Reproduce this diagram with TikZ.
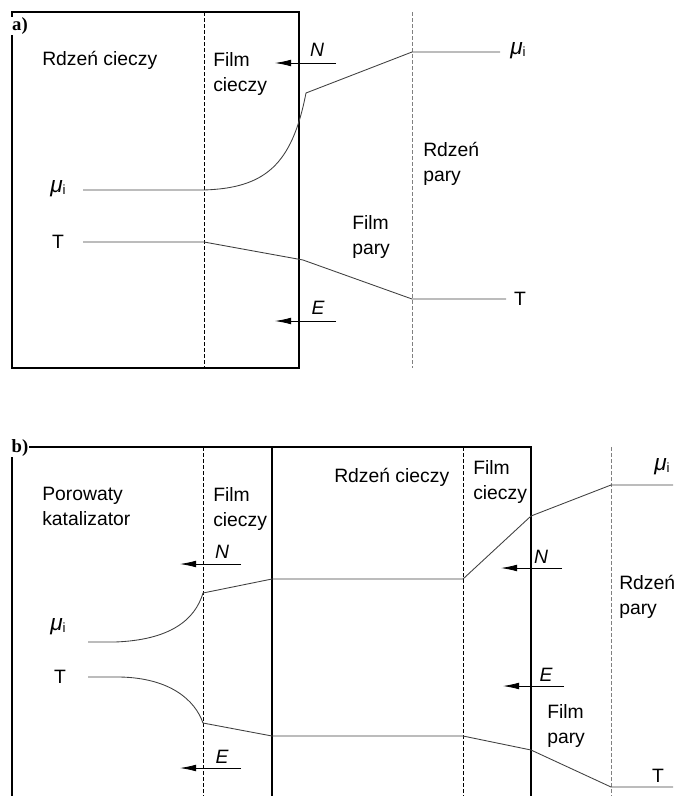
\documentclass[tikz,border=0pt]{standalone}
\usepackage{fontspec}
\setmainfont{Liberation Sans}
\newfontfamily\tagfont{Liberation Serif}
\usetikzlibrary{arrows.meta}
\newcommand{\mui}{{\fontsize{17}{17}\selectfont\itshape μ}\raisebox{-1.5pt}{\fontsize{10}{10}\selectfont i}}
\tikzset{
  wall/.style={line width=0.8pt},
  filmline/.style={line width=0.6pt,dash pattern=on 3pt off 1.5pt},
  coreline/.style={line width=0.7pt,gray,dash pattern=on 3pt off 1.5pt},
  profile/.style={line width=0.65pt,black!75},
  flux/.style={line width=0.6pt,-{Latex[length=12pt,width=5pt]}},
  zone/.style={font=\fontsize{14.5}{18.75}\selectfont,inner sep=0pt,align=left,anchor=west},
  sym/.style={font=\fontsize{14.5}{17}\selectfont,inner sep=0pt},
  panel/.style={font=\fontsize{14}{14}\tagfont\bfseries,fill=white,inner sep=0.6pt},
}
\begin{document}
\begin{tikzpicture}[x=0.75pt,y=-0.75pt]
  \useasboundingbox (0,0) rectangle (674,796);
  % --- a) ---
  \draw[wall] (12,12) rectangle (299,368);
  \draw[filmline] (204,12) -- (204,368);
  \draw[coreline] (412,12) -- (412,368);
  \draw[profile] (83,190) -- (204,190) .. controls (265,188) and (292,165) .. (306,93)
     -- (412,52) -- (500,52);
  \draw[profile] (83,242) -- (204,242) -- (303,260) -- (412,299) -- (506,299);
  \node[panel] (ta) at (20,26) {a)};
  \node[zone] (ra) at (42,60) {Rdzeń cieczy};
  \node[zone] (fa) at (213,74.5) {Film\\cieczy};
  \node[zone] (rpa) at (423,164) {Rdzeń\\pary};
  \node[zone] (fpa) at (352,236.5) {Film\\pary};
  \node[sym] (mla) at (58,189) {\mui};
  \node[sym] (tla) at (58,242) {T};
  \node[sym] (mra) at (518,51) {\mui};
  \node[sym] (tra) at (520,299) {T};
  \coordinate (na1) at (336,63);  \coordinate (na2) at (275,63);
  \coordinate (ea1) at (336,321); \coordinate (ea2) at (275,321);
  \draw[flux] (na1) -- (na2);
  \draw[flux] (ea1) -- (ea2);
  \node[sym] (nla) at (317,50) {\itshape N};
  \node[sym] (ela) at (318,308) {\itshape E};
  % --- b) ---
  \draw[wall] (12,796) -- (12,447) -- (531,447) -- (531,796);
  \draw[wall] (272,447) -- (272,796);
  \draw[filmline] (203,447) -- (203,796);
  \draw[filmline] (463,447) -- (463,796);
  \draw[coreline] (611,447) -- (611,796);
  \draw[profile] (88,642) -- (115,642) .. controls (170,640) and (195,620) .. (203,593)
     -- (272,579) -- (463,579) -- (531,516) -- (611,485) -- (673,485);
  \draw[profile] (88,677) -- (120,677) .. controls (170,678) and (195,700) .. (203,723)
     -- (272,736) -- (463,736) -- (531,750) -- (611,787) -- (673,787);
  \node[panel] (tb) at (20,448) {b)};
  \node[zone] (pk) at (42,506.5) {Porowaty\\katalizator};
  \node[zone] (fb1) at (213,508.5) {Film\\cieczy};
  \node[zone] (rb) at (334,477) {Rdzeń cieczy};
  \node[zone] (fb2) at (473,481.5) {Film\\cieczy};
  \node[zone] (rpb) at (619,597) {Rdzeń\\pary};
  \node[zone] (fpb) at (547,725.5) {Film\\pary};
  \node[sym] (mlb) at (58,627) {\mui};
  \node[sym] (tlb) at (60,677) {T};
  \node[sym] (mrb) at (662,467) {\mui};
  \node[sym] (trb) at (658,776) {T};
  \coordinate (nb1) at (241,564); \coordinate (nb2) at (180,564);
  \coordinate (eb1) at (241,768); \coordinate (eb2) at (180,768);
  \coordinate (nc1) at (562,568); \coordinate (nc2) at (501,568);
  \coordinate (ec1) at (564,686); \coordinate (ec2) at (503,686);
  \draw[flux] (nb1) -- (nb2);
  \draw[flux] (eb1) -- (eb2);
  \draw[flux] (nc1) -- (nc2);
  \draw[flux] (ec1) -- (ec2);
  \node[sym] (nlb) at (222,552) {\itshape N};
  \node[sym] (elb) at (222,757) {\itshape E};
  \node[sym] (nlc) at (541,557) {\itshape N};
  \node[sym] (elc) at (546,675) {\itshape E};
\end{tikzpicture}
\end{document}
